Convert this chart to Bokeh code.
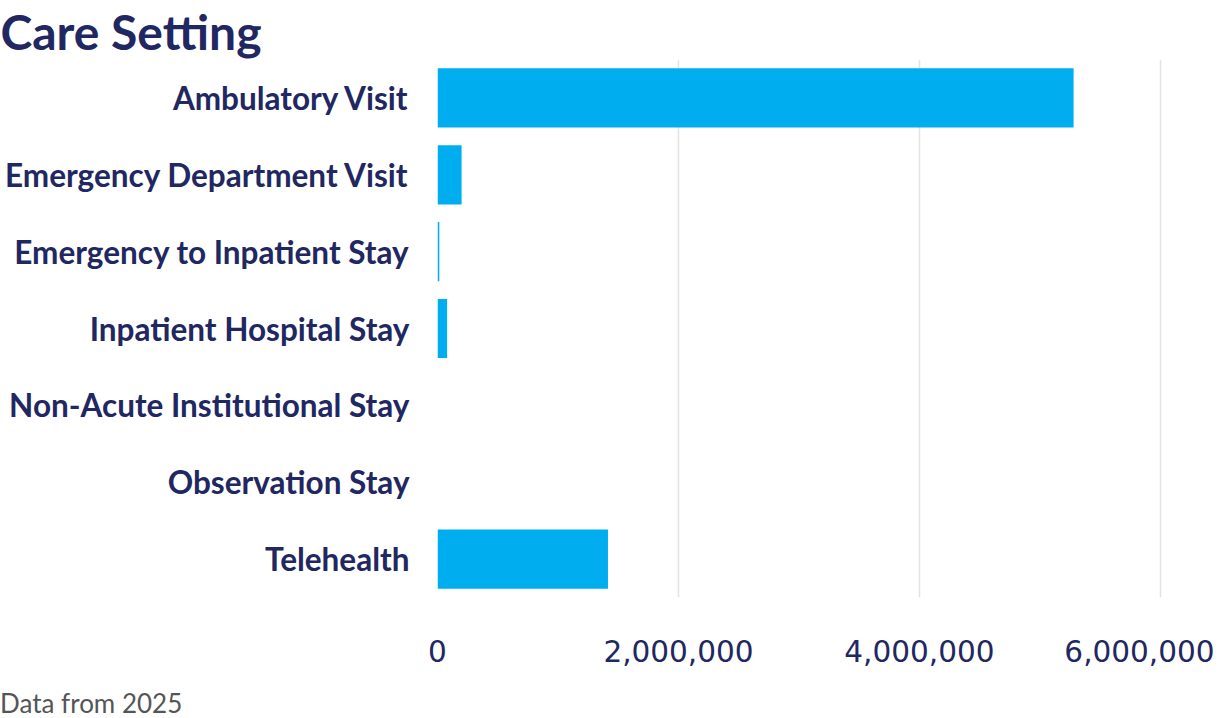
from bokeh.plotting import figure
from bokeh.layouts import column
from bokeh.models import ColumnDataSource, FixedTicker, NumeralTickFormatter, Range1d, Div
from bokeh.embed import file_html
from bokeh.resources import INLINE

settings = ['Ambulatory Visit', 'Emergency Department Visit', 'Emergency to Inpatient Stay',
            'Inpatient Hospital Stay', 'Non-Acute Institutional Stay', 'Observation Stay', 'Telehealth']
visits = [5280000, 200000, 15000, 80000, 0, 0, 1415000]
x_ticks = [0, 2000000, 4000000, 6000000]

navy = '#212761'
blue = '#00aeef'

source = ColumnDataSource({'setting': settings, 'visits': visits})

p = figure(y_range=settings[::-1], x_range=Range1d(0, 6350000),
           width=1214, height=687, output_backend="svg", toolbar_location=None,
           min_border_left=437, min_border_right=12, min_border_top=50, min_border_bottom=90)

p.hbar(y='setting', right='visits', height=0.77, fill_color=blue, line_color=None, source=source)

p.title.text = 'Care Setting'
p.title.text_font = 'Lato'
p.title.text_font_size = '48px'
p.title.text_font_style = 'bold'
p.title.text_color = navy
p.title.align = 'left'
p.title.offset = -437
p.title.standoff = 0

p.xaxis.ticker = FixedTicker(ticks=x_ticks)
p.xaxis.formatter = NumeralTickFormatter(format='0,0')
p.xaxis.axis_line_color = None
p.xaxis.major_tick_line_color = None
p.xaxis.minor_tick_line_color = None
p.xaxis.major_label_text_font = 'DejaVu Sans'
p.xaxis.major_label_text_font_size = '29.5px'
p.xaxis.major_label_text_color = navy
p.xaxis.major_label_standoff = 36

p.yaxis.axis_line_color = None
p.yaxis.major_tick_line_color = None
p.yaxis.major_label_text_font = 'Lato'
p.yaxis.major_label_text_font_size = '31.5px'
p.yaxis.major_label_text_font_style = 'bold'
p.yaxis.major_label_text_color = navy
p.yaxis.major_label_standoff = 22

p.ygrid.grid_line_color = None
p.xgrid.grid_line_color = '#e3e3e3'
p.xgrid.grid_line_width = 1.5
p.outline_line_color = None

note = Div(text='Data from 2025', width=400, height=30, margin=(0, 0, 0, 0),
           styles={'font-family': 'Lato', 'font-size': '26px', 'line-height': '32px',
                   'color': '#555555'})

open("out.html", "w").write(file_html(column(p, note, spacing=0), INLINE))
